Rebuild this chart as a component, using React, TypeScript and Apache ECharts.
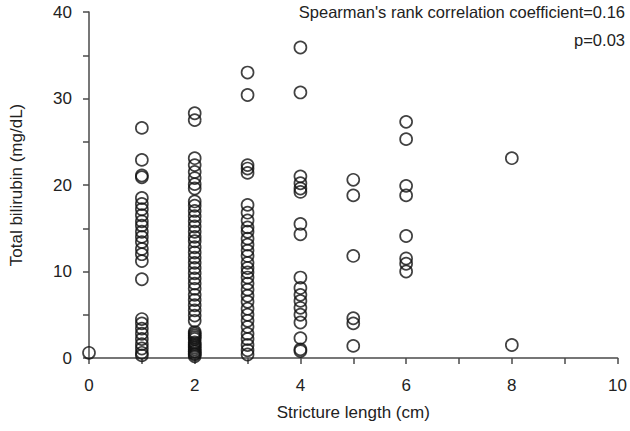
import React, { useEffect, useRef } from "react";
import * as echarts from "echarts";

const len0 = [0.6];
const len1 = [26.6, 22.9, 21.1, 20.9, 18.5, 17.8, 17.2, 16.5, 15.8, 15.3, 14.6, 14.0, 13.4, 12.6, 12.0, 11.2, 9.1, 4.5, 4.0, 3.4, 2.8, 2.2, 1.6, 1.1, 0.6, 0.3];
const len2 = [28.3, 27.5, 23.1, 22.3, 21.5, 20.8, 20.1, 19.6, 18.1, 17.6, 17.0, 16.4, 15.8, 15.2, 14.6, 14.0, 13.5, 12.8, 12.2, 11.6, 11.0, 10.4, 9.8, 9.2, 8.6, 8.0, 7.3, 6.7, 6.1, 5.5, 4.9, 4.3, 3.0, 2.8, 2.6, 2.4, 2.2, 1.8, 1.6, 1.4, 1.2, 1.0, 0.8, 0.7, 0.5, 0.4, 0.2];
const len3 = [33.0, 30.4, 22.3, 21.9, 21.4, 17.7, 16.8, 15.9, 15.1, 14.6, 13.8, 13.1, 12.4, 11.8, 11.0, 10.4, 9.9, 9.3, 8.6, 7.9, 7.2, 6.5, 5.7, 5.0, 4.3, 3.6, 2.8, 2.2, 1.5, 0.9, 0.4];
const len4 = [35.9, 30.7, 21.0, 20.2, 19.6, 19.2, 15.5, 14.3, 9.3, 8.1, 7.3, 6.6, 5.8, 5.0, 4.1, 2.3, 1.0, 0.8];
const len5 = [20.6, 18.8, 11.8, 4.6, 4.0, 1.4];
const len6 = [27.3, 25.3, 19.9, 18.8, 14.1, 11.5, 10.9, 10.0];
const len8 = [23.1, 1.5];

const groups: [number, number[]][] = [
  [0, len0], [1, len1], [2, len2], [3, len3], [4, len4], [5, len5], [6, len6], [8, len8],
];

const annotation1 = "Spearman's rank correlation coefficient=0.16";
const annotation2 = "p=0.03";

const FONT = "'Liberation Sans', Arial, sans-serif";

export default function App() {
  const ref = useRef<HTMLDivElement>(null);
  useEffect(() => {
    if (!ref.current) return;
    const chart = echarts.init(ref.current, null, { renderer: "svg" });
    const data: number[][] = [];
    groups.forEach(([x, vals]) => vals.forEach((v) => data.push([x, v])));
    const axisColor = "#4a4a4a";
    chart.setOption({
      animation: false,
      backgroundColor: "#fff",
      grid: { left: 77, right: 12, top: 12, bottom: 73 },
      xAxis: {
        type: "value",
        min: 0,
        max: 10,
        interval: 2,
        name: "Stricture length (cm)",
        nameLocation: "middle",
        nameGap: 46,
        nameTextStyle: { fontFamily: FONT, fontSize: 17, color: "#222" },
        axisLine: { show: true, lineStyle: { color: axisColor, width: 1.5 } },
        axisTick: { show: true, length: 6, lineStyle: { color: axisColor, width: 1.5 } },
        minorTick: { show: true, splitNumber: 2, length: 6, lineStyle: { color: axisColor, width: 1.5 } },
        splitLine: { show: false },
        axisLabel: { fontFamily: FONT, fontSize: 17, color: "#222", margin: 19 },
      },
      yAxis: {
        type: "value",
        min: 0,
        max: 40,
        interval: 10,
        name: "Total bilirubin (mg/dL)",
        nameLocation: "middle",
        nameGap: 64,
        nameRotate: 90,
        nameTextStyle: { fontFamily: FONT, fontSize: 17, color: "#222" },
        axisLine: { show: true, lineStyle: { color: axisColor, width: 1.5 } },
        axisTick: { show: true, length: 6, lineStyle: { color: axisColor, width: 1.5 } },
        minorTick: { show: true, splitNumber: 2, length: 6, lineStyle: { color: axisColor, width: 1.5 } },
        splitLine: { show: false },
        axisLabel: { fontFamily: FONT, fontSize: 17, color: "#222", margin: 17 },
      },
      graphic: [
        {
          type: "text",
          right: 5,
          top: 3,
          style: { text: annotation1, fontFamily: FONT, fontSize: 16.5, fill: "#222", textAlign: "right" },
        },
        {
          type: "text",
          right: 5,
          top: 31,
          style: { text: annotation2, fontFamily: FONT, fontSize: 16.5, fill: "#222", textAlign: "right" },
        },
      ],
      series: [
        {
          type: "scatter",
          data,
          symbol: "circle",
          symbolSize: 12,
          clip: false,
          itemStyle: { color: "rgba(0,0,0,0)", borderColor: "#111", borderWidth: 1.7 },
        },
      ],
    });
    return () => chart.dispose();
  }, []);
  return (
    <div
      ref={ref}
      style={{ position: "absolute", left: 0, top: 0, width: 630, height: 431, background: "#fff" }}
    />
  );
}
